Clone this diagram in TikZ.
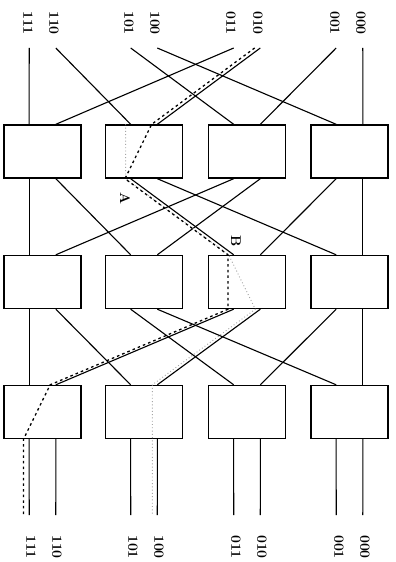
\documentclass[tikz,border=0pt]{standalone}
\usepackage{tikz}

\begin{document}
\begin{tikzpicture}[x=0.03cm, y=-0.03cm, line width=0.95pt,
  sw/.style={draw, line width=1.2pt, minimum width=2.31cm, minimum height=1.59cm, inner sep=0pt},
  lab/.style={font=\large\bfseries, rotate=-90, inner sep=1pt},
  hot/.style={dash pattern=on 2.2pt off 2.6pt, line width=1.1pt, transform canvas={xshift=-1.7mm}},
  lit/.style={black!35, dotted, line width=0.8pt, transform canvas={xshift=-1.5mm}}]
\useasboundingbox (0,0) rectangle (396,562);
% switches, three stages
\node[sw] (a1) at (42.5,151.5) {};
\node[sw] (a2) at (144,151.5) {};
\node[sw] (a3) at (247,151.5) {};
\node[sw] (a4) at (349.5,151.5) {};
\node[sw] (b1) at (42.5,282) {};
\node[sw] (b2) at (144,282) {};
\node[sw] (b3) at (247,282) {};
\node[sw] (b4) at (349.5,282) {};
\node[sw] (c1) at (42.5,412) {};
\node[sw] (c2) at (144,412) {};
\node[sw] (c3) at (247,412) {};
\node[sw] (c4) at (349.5,412) {};
% line ends
\coordinate (i0) at (362.8,48);
\coordinate (i1) at (336.2,48);
\coordinate (i2) at (260.3,48);
\coordinate (i3) at (233.7,48);
\coordinate (i4) at (157.3,48);
\coordinate (i5) at (130.7,48);
\coordinate (i6) at (55.8,48);
\coordinate (i7) at (29.2,48);
\coordinate (o0) at (362.8,515);
\coordinate (o1) at (336.2,515);
\coordinate (o2) at (260.3,515);
\coordinate (o3) at (233.7,515);
\coordinate (o4) at (157.3,515);
\coordinate (o5) at (130.7,515);
\coordinate (o6) at (55.8,515);
\coordinate (o7) at (29.2,515);
% labels
\node[lab] (t0) at (361,23) {000};
\node[lab] (t1) at (335,23) {001};
\node[lab] (t2) at (258,23) {010};
\node[lab] (t3) at (231,23) {011};
\node[lab] (t4) at (155,23) {100};
\node[lab] (t5) at (129,23) {101};
\node[lab] (t6) at (54,23) {110};
\node[lab] (t7) at (28,23) {111};
\node[lab] (u0) at (365,547) {000};
\node[lab] (u1) at (339,547) {001};
\node[lab] (u2) at (262,547) {010};
\node[lab] (u3) at (236,547) {011};
\node[lab] (u4) at (159,547) {100};
\node[lab] (u5) at (133,547) {101};
\node[lab] (u6) at (57,547) {110};
\node[lab] (u7) at (31,547) {111};
\node[lab] (pa) at (125,198) {A};
\node[lab] (pb) at (236,241) {B};
% inputs to stage 1
\draw (i0) -- ([xshift=4mm]a4.north);
\draw (i1) -- ([xshift=4mm]a3.north);
\draw (i2) -- ([xshift=4mm]a2.north);
\draw (i3) -- ([xshift=4mm]a1.north);
\draw (i4) -- ([xshift=-4mm]a4.north);
\draw (i5) -- ([xshift=-4mm]a3.north);
\draw (i6) -- ([xshift=-4mm]a2.north);
\draw (i7) -- ([xshift=-4mm]a1.north);
% stage 1 to stage 2
\draw ([xshift=4mm]a4.south) -- ([xshift=4mm]b4.north);
\draw ([xshift=-4mm]a4.south) -- ([xshift=4mm]b3.north);
\draw ([xshift=4mm]a3.south) -- ([xshift=4mm]b2.north);
\draw ([xshift=-4mm]a3.south) -- ([xshift=4mm]b1.north);
\draw ([xshift=4mm]a2.south) -- ([xshift=-4mm]b4.north);
\draw ([xshift=-4mm]a2.south) -- ([xshift=-4mm]b3.north);
\draw ([xshift=4mm]a1.south) -- ([xshift=-4mm]b2.north);
\draw ([xshift=-4mm]a1.south) -- ([xshift=-4mm]b1.north);
% stage 2 to stage 3
\draw ([xshift=4mm]b4.south) -- ([xshift=4mm]c4.north);
\draw ([xshift=-4mm]b4.south) -- ([xshift=4mm]c3.north);
\draw ([xshift=4mm]b3.south) -- ([xshift=4mm]c2.north);
\draw ([xshift=-4mm]b3.south) -- ([xshift=4mm]c1.north);
\draw ([xshift=4mm]b2.south) -- ([xshift=-4mm]c4.north);
\draw ([xshift=-4mm]b2.south) -- ([xshift=-4mm]c3.north);
\draw ([xshift=4mm]b1.south) -- ([xshift=-4mm]c2.north);
\draw ([xshift=-4mm]b1.south) -- ([xshift=-4mm]c1.north);
% stage 3 to outputs
\draw ([xshift=4mm]c4.south) -- (o0);
\draw ([xshift=-4mm]c4.south) -- (o1);
\draw ([xshift=4mm]c3.south) -- (o2);
\draw ([xshift=-4mm]c3.south) -- (o3);
\draw ([xshift=4mm]c2.south) -- (o4);
\draw ([xshift=-4mm]c2.south) -- (o5);
\draw ([xshift=4mm]c1.south) -- (o6);
\draw ([xshift=-4mm]c1.south) -- (o7);
% the two routes
\draw[lit] ([xshift=-4mm]a2.north) -- ([xshift=-4mm]a2.south) -- ([xshift=-4mm]b3.north)
  -- ([xshift=4mm]b3.south) -- ([xshift=4mm]c2.north) -- ([xshift=4mm]c2.south) -- (o4);
\draw[hot] (i2) -- ([xshift=4mm]a2.north) -- ([xshift=-4mm]a2.south) -- ([xshift=-4mm]b3.north)
  -- ([xshift=-4mm]b3.south) -- ([xshift=4mm]c1.north) -- ([xshift=-4mm]c1.south) -- (o7);
\end{tikzpicture}
\end{document}
